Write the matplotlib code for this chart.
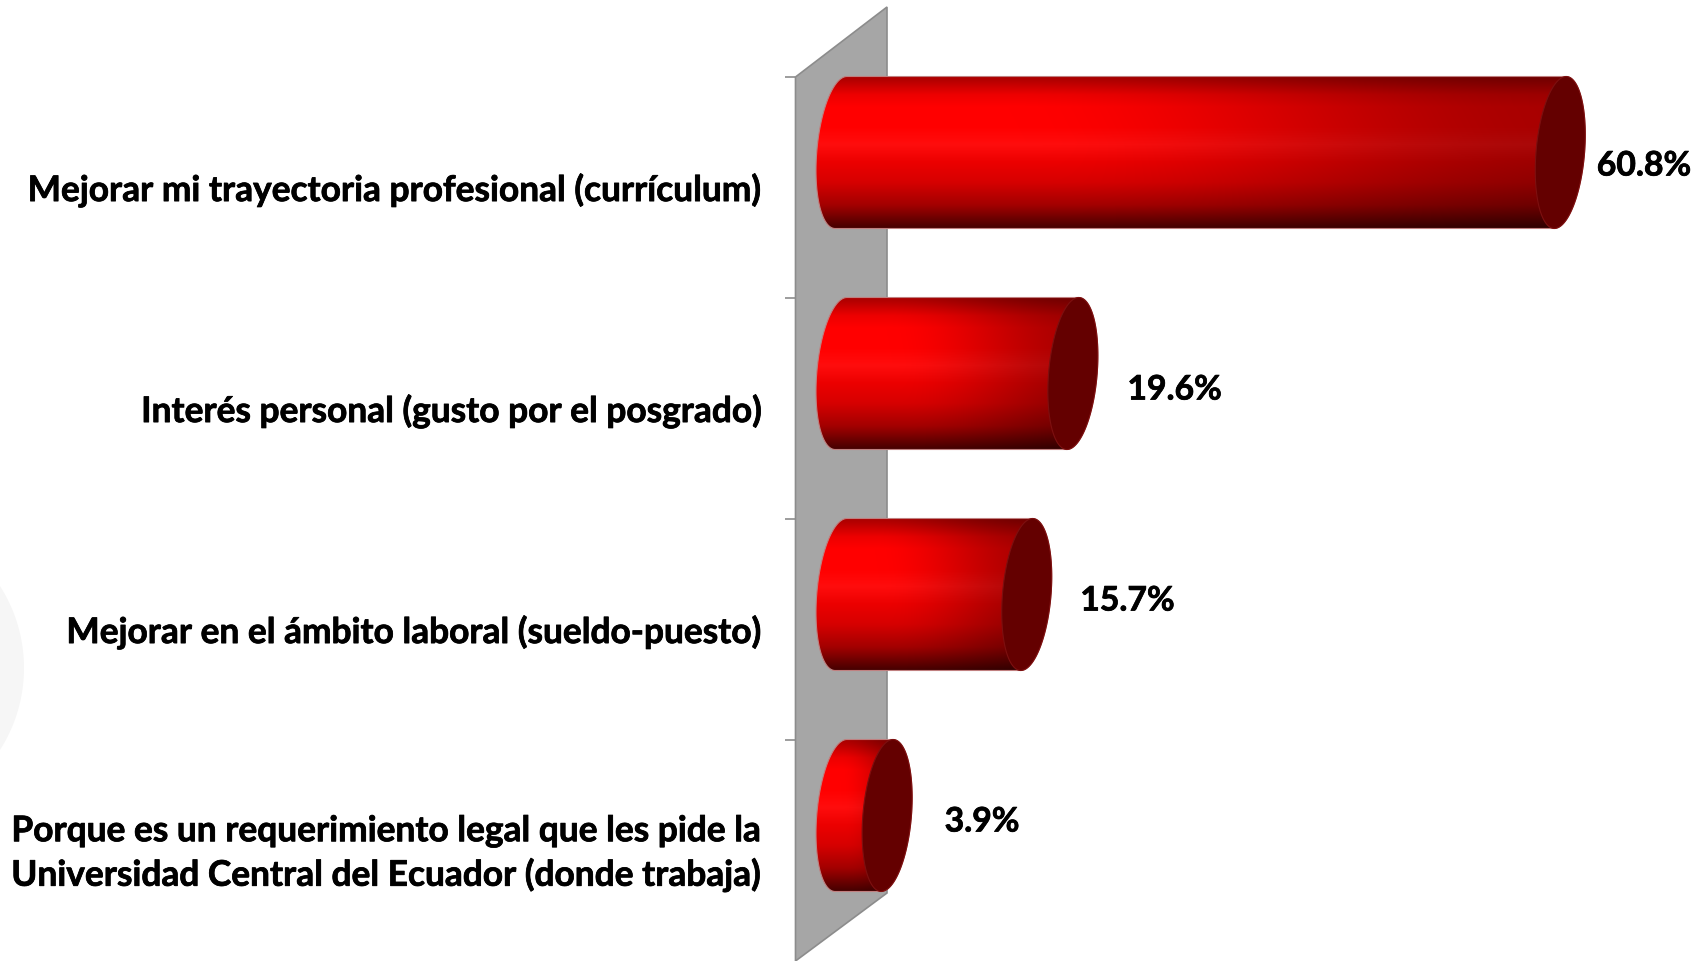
import numpy as np
import matplotlib
matplotlib.use("Agg")
import matplotlib.pyplot as plt
from matplotlib.patches import Polygon
import matplotlib.patheffects as pe

categories = [
    "Mejorar mi trayectoria profesional (currículum)",
    "Interés personal (gusto por el posgrado)",
    "Mejorar en el ámbito laboral (sueldo-puesto)",
    "Porque es un requerimiento legal que les pide la\nUniversidad Central del Ecuador (donde trabaja)",
]
values = [60.8, 19.6, 15.7, 3.9]
value_labels = ["60.8%", "19.6%", "15.7%", "3.9%"]
label_dx_px = [36.5, 54.5, 53.5, 57.5]
label_dy_px = [13, 16, 6, 6]

W, H = 1698, 961
PX_PER_PCT = 11.83
X0_PX, Y0_PX, ROW_PX = 841.0, 152.5, 221.0
BAR_H_PX = 152.0
FS = 25.4
FS_VALUE = 24.3

plt.rcParams["font.family"] = ["Lato", "DejaVu Sans"]
fig = plt.figure(figsize=(W / 100, H / 100), dpi=100, facecolor="white")
ax = fig.add_axes([0, 0, 1, 1])
ax.axis("off")


def X(px):
    return (px - X0_PX) / PX_PER_PCT


def Y(py):
    return (py - Y0_PX) / ROW_PX


stroke = [pe.withStroke(linewidth=0.55, foreground="black")]

# faint decorative disc at the left edge
t = np.linspace(0, 2 * np.pi, 200)
ax.add_patch(Polygon(np.column_stack([X(-128 + 152 * np.cos(t)), Y(668 + 152 * np.sin(t))]),
                     closed=True, fc="#f6f6f6", ec="none", zorder=0))

# back wall
ax.add_patch(Polygon([(X(795.5), Y(77)), (X(887), Y(7)), (X(887), Y(893)), (X(795.5), Y(961))],
                     closed=True, fc="#a6a6a6", ec="#8c8c8c", lw=1.2, zorder=1))
for i in range(len(values)):
    yt = Y(77 + i * ROW_PX)
    ax.plot([X(785), X(795)], [yt, yt], color="#8c8c8c", lw=1.2, zorder=1, solid_capstyle="butt")

A, S = 24.3, 5.9
B = BAR_H_PX / 2


def arc(cx_px, cy_px, t0, t1, n=80):
    a = np.linspace(t0, t1, n)
    return cx_px + A * np.cos(a) + S * np.sin(a), cy_px - B * np.sin(a)


vstops = [0, .03, .12, .2, .45, .7, .85, .95, 1]
vvals = [.66, .72, .93, 1.0, 1.0, .84, .64, .4, .28]

for i, (val, cat, lab, ldx, ldy) in enumerate(zip(values, categories, value_labels,
                                                  label_dx_px, label_dy_px)):
    cy = Y0_PX + i * ROW_PX
    cx1 = X0_PX + val * PX_PER_PCT
    xr, yr = arc(cx1, cy, np.pi / 2, -np.pi / 2)
    xl, yl = arc(X0_PX, cy, -np.pi / 2, -3 * np.pi / 2)
    px = np.r_[xr, xl]
    py = np.r_[yr, yl]
    verts = np.column_stack([X(px), Y(py)])
    ax.add_patch(Polygon(verts, closed=True, fc="none", ec="#c08080", lw=0.8, zorder=3))

    # shaded fill
    x_min, x_max = px.min(), px.max()
    y_min, y_max = cy - B, cy + B
    nx, ny = int(x_max - x_min) + 2, int(BAR_H_PX)
    xx, vv = np.meshgrid(np.linspace(0, 1, nx), np.linspace(0, 1, ny))
    base = np.interp(vv, vstops, vvals)
    u = np.clip((xx + 0.10 * (0.5 - vv) - 0.28) / 0.72, 0, 1)
    dim = 1 - 0.34 * u * u * (3 - 2 * u)
    r = base * dim
    g = np.where(np.abs(vv - .45) < .12, .05 * (1 - np.abs(vv - .45) / .12), 0) * dim
    rgb = np.dstack([r, g, g])
    im = ax.imshow(rgb, extent=[X(x_min), X(x_max), Y(y_max), Y(y_min)], aspect="auto",
                   interpolation="bilinear", zorder=2.5)
    im.set_clip_path(Polygon(verts, closed=True, transform=ax.transData))

    # end cap
    xc, yc = arc(cx1, cy, 0, 2 * np.pi, 160)
    ax.add_patch(Polygon(np.column_stack([X(xc), Y(yc)]), closed=True,
                         fc="#640000", ec="#7d1010", lw=0.8, zorder=4))

    ax.text(X(761), i + 38 / ROW_PX, cat, ha="right", va="center", fontsize=FS,
            fontweight="bold", color="black", linespacing=1.42, zorder=5, path_effects=stroke)
    ax.annotate(lab, xy=(val, i), xytext=(ldx * 0.72, -ldy * 0.72),
                textcoords="offset points", ha="left", va="center", fontsize=FS_VALUE,
                fontweight="bold", color="black", zorder=5, path_effects=stroke)

ax.set_xlim(-X0_PX / PX_PER_PCT, (W - X0_PX) / PX_PER_PCT)
ax.set_ylim((H - Y0_PX) / ROW_PX, -Y0_PX / ROW_PX)
fig.savefig("out.png", dpi=100, facecolor="white")
